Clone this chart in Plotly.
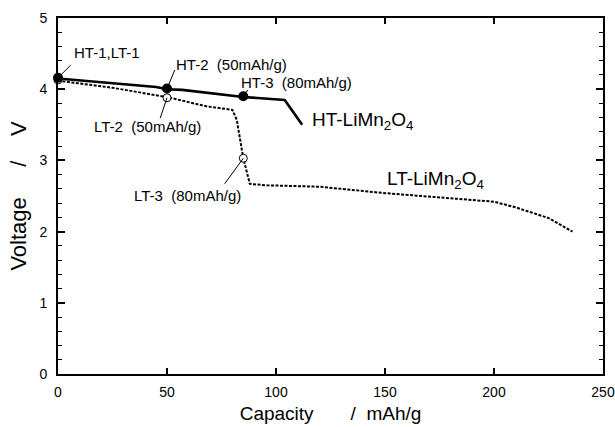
import plotly.graph_objects as go

# HT-LiMn2O4 discharge curve
ht_cap = [0, 45, 50, 57, 85, 104, 112]
ht_v = [4.15, 4.03, 4.00, 3.99, 3.89, 3.85, 3.50]
# LT-LiMn2O4 discharge curve
lt_cap = [0, 25, 50, 68, 80, 82, 85, 88, 96, 120, 150, 186, 200, 210, 225, 236]
lt_v = [4.12, 4.02, 3.89, 3.76, 3.71, 3.57, 3.03, 2.67, 2.65, 2.63, 2.54, 2.46, 2.42, 2.34, 2.19, 2.00]

# marked sampling points
ht_pt_cap = [0, 50, 85]
ht_pt_v = [4.16, 4.01, 3.90]
ht_pt_lbl = ["HT-1,LT-1", "HT-2\u00a0 (50mAh/g)", "HT-3\u00a0 (80mAh/g)"]
lt_pt_cap = [0, 50, 85]
lt_pt_v = [4.13, 3.88, 3.03]
lt_pt_lbl = ["", "LT-2\u00a0 (50mAh/g)", "LT-3\u00a0 (80mAh/g)"]

x_ticks = [0, 50, 100, 150, 200, 250]
y_ticks = [0, 1, 2, 3, 4, 5]

FONT = "Arial, Liberation Sans, Helvetica, sans-serif"
NB = "\u00a0"

fig = go.Figure()
fig.add_trace(go.Scatter(x=lt_cap, y=lt_v, mode="lines",
                         line=dict(color="black", width=2, dash="3px,1.5px"),
                         showlegend=False, hoverinfo="skip"))
fig.add_trace(go.Scatter(x=ht_cap, y=ht_v, mode="lines",
                         line=dict(color="black", width=2.6),
                         showlegend=False, hoverinfo="skip"))
fig.add_trace(go.Scatter(x=lt_pt_cap, y=lt_pt_v, mode="markers",
                         marker=dict(size=8, color="white", symbol="circle",
                                     line=dict(color="black", width=1)),
                         cliponaxis=False, showlegend=False))
fig.add_trace(go.Scatter(x=ht_pt_cap, y=ht_pt_v, mode="markers",
                         marker=dict(size=10, color="black"),
                         cliponaxis=False, showlegend=False))

# leader lines (pixel offsets of tails from marker)
leaders = [
    (ht_pt_cap[0], ht_pt_v[0], 13, -13),
    (ht_pt_cap[1], ht_pt_v[1], 8, -19),
    (ht_pt_cap[2], ht_pt_v[2], 5, -7),
    (lt_pt_cap[1], lt_pt_v[1], -7, 21),
    (lt_pt_cap[2], lt_pt_v[2], -19, 26),
]
for (x, y, ax, ay) in leaders:
    fig.add_annotation(x=x, y=y, ax=ax, ay=ay, text="", showarrow=True,
                       arrowhead=0, arrowwidth=1, arrowcolor="black",
                       font=dict(size=1), borderpad=0)

# text labels (data positions of left/middle of text)
labels = [
    (6.4, 4.51, ht_pt_lbl[0], 15),
    (53.2, 4.34, ht_pt_lbl[1], 15),
    (83.0, 4.10, ht_pt_lbl[2], 15),
    (15.6, 3.47, lt_pt_lbl[1], 15),
    (34.0, 2.51, lt_pt_lbl[2], 15),
    (115.6, 3.55, "HT-LiMn<sub>2</sub>O<sub>4</sub>", 19),
    (150.0, 2.72, "LT-LiMn<sub>2</sub>O<sub>4</sub>", 19),
]
for (x, y, t, s) in labels:
    fig.add_annotation(x=x, y=y, text=t, showarrow=False, xanchor="left",
                       yanchor="middle", font=dict(size=s, color="black", family=FONT))

axis_common = dict(showline=True, linecolor="black", linewidth=1.8, mirror="ticks",
                   ticks="inside", tickcolor="black", tickwidth=1.5,
                   showgrid=False, zeroline=False, automargin=False,
                   tickfont=dict(size=14, color="black", family=FONT))

fig.update_xaxes(range=[0, 250], tickvals=x_ticks, ticklen=6,
                 title=dict(text="Capacity" + NB * 7 + "/" + NB * 2 + "mAh/g",
                            font=dict(size=19, color="black", family=FONT), standoff=8),
                 ticklabelstandoff=4, **axis_common)
fig.update_yaxes(range=[0, 5], tickvals=y_ticks, ticklen=7,
                 minor=dict(dtick=0.2, ticks="inside", ticklen=4, tickcolor="black", tickwidth=1.2),
                 title=dict(text="Voltage" + NB * 5 + "/" + NB * 4 + "V" + NB * 4,
                            font=dict(size=22, color="black", family=FONT), standoff=7),
                 ticklabelstandoff=6, **axis_common)

fig.update_layout(width=615, height=427, margin=dict(l=58, r=12, t=18, b=53),
                  paper_bgcolor="white", plot_bgcolor="white",
                  font=dict(family=FONT, color="black"))

fig.write_html("out.html", config={"displayModeBar": False},
               post_script="document.body.style.margin='0';document.body.style.overflow='hidden';")
